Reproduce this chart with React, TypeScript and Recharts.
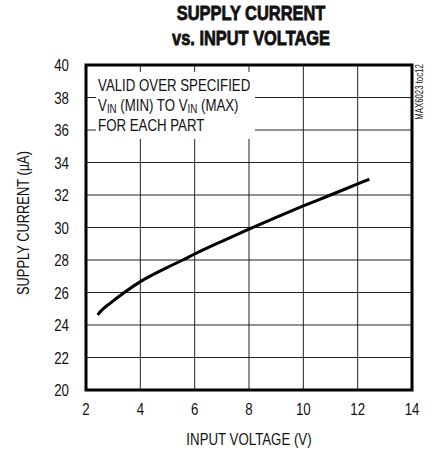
import { LineChart, Line, XAxis, YAxis, CartesianGrid, ReferenceArea } from 'recharts';

const voltage = [2.43, 2.55, 2.92, 3.41, 4, 5, 5.56, 6, 7, 8, 9, 10, 11, 12, 12.43];
const current = [24.62, 24.86, 25.38, 26.0, 26.67, 27.55, 28.0, 28.37, 29.15, 29.9, 30.63, 31.33, 32.0, 32.68, 32.97];
const xTicks = [2, 4, 6, 8, 10, 12, 14];
const yTicks = [20, 22, 24, 26, 28, 30, 32, 34, 36, 38, 40];
const noteLines = ['VALID OVER SPECIFIED', 'FOR EACH PART'];

const data = voltage.map((v, i) => ({ v, i: current[i] }));

// no narrow face installed, so squeeze Liberation Sans horizontally
const font = "'Liberation Sans', Arial, sans-serif";
const squeeze = 0.78;

const XTick = (props: any) => {
  const { x, y, payload } = props;
  return (
    <text transform={`translate(${x},${y}) scale(${squeeze},1)`} textAnchor="middle" dy="0.71em" fontSize={17} fontFamily={font} fill="#111">
      {payload.value}
    </text>
  );
};

const YTick = (props: any) => {
  const { x, y, payload } = props;
  return (
    <text transform={`translate(${x},${y}) scale(${squeeze},1)`} textAnchor="end" dy="0.355em" fontSize={17} fontFamily={font} fill="#111">
      {payload.value}
    </text>
  );
};

// white box with the validity note, drawn in data space
const NoteBox = (props: any) => {
  const { x, y, width, height } = props;
  return (
    <g>
      <rect x={x} y={y} width={width} height={height} fill="#fff" />
      <g transform={`translate(${x + 2},${y}) scale(${squeeze},1)`} fontSize={17} fontFamily={font} fill="#111">
        <text x={0} y={18.7}>{noteLines[0]}</text>
        <text x={0} y={39}>
          V<tspan fontSize={12.5} dy={2.5}>IN</tspan>
          <tspan dy={-2.5}> (MIN) TO V</tspan>
          <tspan fontSize={12.5} dy={2.5}>IN</tspan>
          <tspan dy={-2.5}> (MAX)</tspan>
        </text>
        <text x={0} y={59.5}>{noteLines[1]}</text>
      </g>
    </g>
  );
};

const sq = (extra = '', s = squeeze) => ({ transform: `${extra} scaleX(${s})`.trim(), whiteSpace: 'nowrap' as const });

export default function App() {
  return (
    <div style={{ position: 'absolute', left: 0, top: 0, width: 434, height: 453, background: '#fff', fontFamily: font, color: '#111' }}>
      <div style={{ position: 'absolute', left: 51, width: 400, top: 0.5, textAlign: 'center', fontWeight: 'bold', fontSize: 20, lineHeight: '25px', WebkitTextStroke: '0.8px #111', ...sq('', 0.82) }}>
        SUPPLY CURRENT
        <br />
        vs. INPUT VOLTAGE
      </div>
      <LineChart width={434} height={453} data={data} margin={{ top: 65, right: 22, bottom: 0, left: 0 }}>
        <CartesianGrid stroke="#222" strokeWidth={1} />
        <XAxis
          dataKey="v"
          type="number"
          domain={[2, 14]}
          ticks={xTicks}
          height={63}
          axisLine={false}
          tickLine={false}
          tickSize={0}
          tickMargin={13}
          tick={<XTick />}
        />
        <YAxis
          type="number"
          domain={[20, 40]}
          ticks={yTicks}
          width={86}
          axisLine={false}
          tickLine={false}
          tickSize={0}
          tickMargin={17}
          tick={<YTick />}
        />
        <ReferenceArea x1={2.37} x2={8.22} y1={35.45} y2={39.57} shape={NoteBox} />
        <ReferenceArea x1={2} x2={14} y1={20} y2={40} fill="none" fillOpacity={0} stroke="#000" strokeWidth={3} />
        <Line
          dataKey="i"
          type="monotone"
          stroke="#000"
          strokeWidth={3}
          dot={false}
          isAnimationActive={false}
        />
      </LineChart>
      <div style={{ position: 'absolute', left: 49, width: 400, top: 429.8, textAlign: 'center', fontSize: 17, lineHeight: '20px', ...sq() }}>
        INPUT VOLTAGE (V)
      </div>
      <div style={{ position: 'absolute', left: 22.5 - 150, width: 300, top: 222.5 - 10, textAlign: 'center', fontSize: 16.5, lineHeight: '20px', ...sq('rotate(-90deg)') }}>
        SUPPLY CURRENT (µA)
      </div>
      <div style={{ position: 'absolute', left: 420 - 50, width: 100, top: 92 - 6, textAlign: 'center', fontSize: 10, lineHeight: '12px', ...sq('rotate(-90deg)') }}>
        MAX6023 toc12
      </div>
    </div>
  );
}
